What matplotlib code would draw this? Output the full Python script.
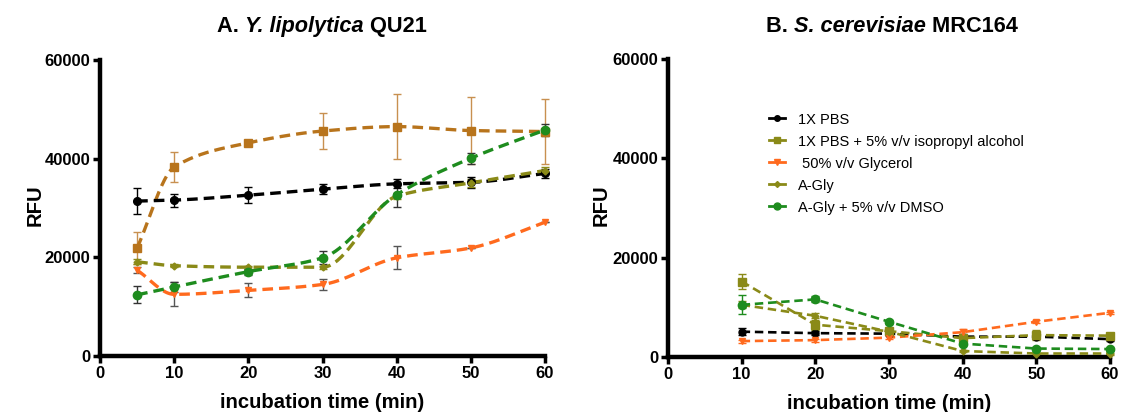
import numpy as np
import matplotlib
matplotlib.use("Agg")
import matplotlib.pyplot as plt
from matplotlib.lines import Line2D

plt.rcParams['font.family'] = ['Liberation Sans', 'DejaVu Sans']

# ---------------- data ----------------
series_names = ["1X PBS", "1X PBS + 5% v/v isopropyl alcohol", " 50% v/v Glycerol",
                "A-Gly", "A-Gly + 5% v/v DMSO"]

time_a = [5, 10, 20, 30, 40, 50, 60]
a_pbs = [31400, 31600, 32600, 33800, 34900, 35200, 37000]
a_pbs_err = [2600, 1300, 1600, 1000, 900, 1100, 1000]
a_ipa = [21900, 38300, 43200, 45600, 46500, 45700, 45500]
a_ipa_err = [3300, 3000, 0, 3600, 6600, 6700, 6600]
a_gly = [17400, 12500, 13300, 14500, 19900, 21900, 27100]
a_gly_err = [600, 2400, 1400, 1200, 2300, 0, 0]
a_agly = [19100, 18300, 18000, 18000, 32400, 35100, 37600]
a_agly_err = [500, 300, 300, 300, 600, 800, 800]
a_dmso = [12400, 14000, 17100, 19900, 32700, 40100, 45800]
a_dmso_err = [1700, 1100, 600, 1300, 2400, 1100, 1200]

time_b = [10, 20, 30, 40, 50, 60]
b_pbs = [5100, 4800, 4700, 4100, 4100, 3600]
b_pbs_err = [700, 400, 300, 500, 400, 300]
b_ipa = [15200, 6500, 5200, 3800, 4400, 4300]
b_ipa_err = [1600, 1000, 400, 300, 1000, 400]
b_gly = [3200, 3400, 3900, 5000, 7100, 8900]
b_gly_err = [300, 300, 300, 600, 300, 200]
b_agly = [10500, 8300, 5100, 1200, 700, 700]
b_agly_err = [700, 500, 300, 200, 200, 200]
b_dmso = [10500, 11600, 7100, 2700, 1700, 1600]
b_dmso_err = [1900, 600, 400, 300, 300, 300]

# ---------------- style ----------------
C_BLACK = "#000000"
C_BROWN = "#B8741C"
C_OLIVE = "#8A8A18"
C_ORANGE = "#FF6A1E"
C_GREEN = "#1E8C1E"


def pchip(x, y, n=40):
    x = np.asarray(x, float)
    y = np.asarray(y, float)
    h = np.diff(x)
    d = np.diff(y) / h
    m = np.zeros_like(y)
    for k in range(1, len(x) - 1):
        if d[k - 1] * d[k] <= 0:
            m[k] = 0
        else:
            w1 = 2 * h[k] + h[k - 1]
            w2 = h[k] + 2 * h[k - 1]
            m[k] = (w1 + w2) / (w1 / d[k - 1] + w2 / d[k])
    m[0] = d[0]
    m[-1] = d[-1]
    xs, ys = [], []
    for k in range(len(x) - 1):
        t = np.linspace(0, 1, n)
        h00 = 2 * t**3 - 3 * t**2 + 1
        h10 = t**3 - 2 * t**2 + t
        h01 = -2 * t**3 + 3 * t**2
        h11 = t**3 - t**2
        yy = h00 * y[k] + h10 * h[k] * m[k] + h01 * y[k + 1] + h11 * h[k] * m[k + 1]
        xs.append(x[k] + t * h[k])
        ys.append(yy)
    return np.concatenate(xs), np.concatenate(ys)


fig = plt.figure(figsize=(11.26, 4.12), dpi=100)
ax1 = fig.add_axes([100 / 1126, 1 - 356 / 412, 445 / 1126, 296 / 412])
ax2 = fig.add_axes([668 / 1126, 1 - 357 / 412, 442 / 1126, 298 / 412])

DASH = (0, (3.2, 1.8))


def draw(ax, t, y, e, color, marker, ms, smooth, ecolor=None, lw=2.4):
    if smooth:
        xs, ys = pchip(t, y)
    else:
        xs, ys = np.asarray(t, float), np.asarray(y, float)
    ax.plot(xs, ys, color=color, lw=lw, linestyle=DASH, dash_capstyle='butt',
            zorder=3, clip_on=False)
    eb = ax.errorbar(t, y, yerr=e, fmt='none', ecolor=ecolor or color, elinewidth=1.0,
                     capsize=3, capthick=1.0, zorder=2)
    for art in eb.lines[1] + eb.lines[2]:
        art.set_clip_on(False)
    ax.plot(t, y, linestyle='none', marker=marker, color=color, ms=ms,
            markeredgecolor=color, zorder=4, clip_on=False)


draw(ax1, time_a, a_ipa, a_ipa_err, C_BROWN, 's', 5.5, True, ecolor="#C89050")
draw(ax1, time_a, a_pbs, a_pbs_err, C_BLACK, 'o', 5.5, True)
draw(ax1, time_a, a_agly, a_agly_err, C_OLIVE, 'D', 3.5, True)
draw(ax1, time_a, a_gly, a_gly_err, C_ORANGE, 'v', 5, True, ecolor="#555555")
draw(ax1, time_a, a_dmso, a_dmso_err, C_GREEN, 'o', 6, True, ecolor="#333333")

draw(ax2, time_b, b_pbs, b_pbs_err, C_BLACK, 'o', 5, False, lw=1.9)
draw(ax2, time_b, b_ipa, b_ipa_err, C_OLIVE, 's', 5.5, False, lw=1.9)
draw(ax2, time_b, b_gly, b_gly_err, C_ORANGE, 'v', 5, False, lw=1.9)
draw(ax2, time_b, b_agly, b_agly_err, C_OLIVE, 'D', 3.5, False, lw=1.9)
draw(ax2, time_b, b_dmso, b_dmso_err, C_GREEN, 'o', 6, False, lw=1.9)

for ax in (ax1, ax2):
    ax.set_xlim(0, 60)
    ax.set_ylim(0, 60000)
    ax.set_xticks(range(0, 61, 10))
    ax.set_yticks(range(0, 60001, 20000))
    for s in ('top', 'right'):
        ax.spines[s].set_visible(False)
    for s in ('left', 'bottom'):
        ax.spines[s].set_linewidth(3.2)
    ax.tick_params(axis='both', width=2.5, length=5, direction='out', labelsize=12, pad=2)
    for lab in ax.get_xticklabels() + ax.get_yticklabels():
        lab.set_fontweight('bold')
    ax.set_xlabel("incubation time (min)", fontsize=14.6, fontweight='bold', labelpad=9)
    ax.patch.set_alpha(0)

ax1.set_ylabel("RFU", fontsize=14.6, fontweight='bold')
ax2.set_ylabel("RFU", fontsize=14.6, fontweight='bold')
ax1.yaxis.set_label_coords(-55 / 445, 0.51)
ax2.yaxis.set_label_coords(-57 / 442, 0.51)

handles = [
    Line2D([], [], color=C_BLACK, marker='o', ms=4, lw=2),
    Line2D([], [], color=C_OLIVE, marker='s', ms=4, lw=2),
    Line2D([], [], color=C_ORANGE, marker='v', ms=4, lw=2),
    Line2D([], [], color=C_OLIVE, marker='D', ms=3, lw=2),
    Line2D([], [], color=C_GREEN, marker='o', ms=5, lw=2),
]
ax2.legend(handles, series_names, loc='upper left', bbox_to_anchor=(0.215, 0.84),
           frameon=False, fontsize=10.5, handlelength=1.1, handletextpad=0.9,
           labelspacing=0.55, borderaxespad=0)


def mixed_title(fig, parts, cx, y, size=15.7):
    fig.canvas.draw()
    r = fig.canvas.get_renderer()
    texts = []
    for s, style in parts:
        t = fig.text(0, y, s, fontsize=size, fontweight='bold', fontstyle=style,
                     va='baseline', ha='left')
        texts.append(t)
    widths = [t.get_window_extent(renderer=r).width for t in texts]
    total = sum(widths)
    x0 = cx * fig.bbox.width - total / 2
    for t, w in zip(texts, widths):
        t.set_x(x0 / fig.bbox.width)
        x0 += w


mixed_title(fig, [("A. ", 'normal'), ("Y. lipolytica", 'italic'), (" QU21", 'normal')],
            322 / 1126, 1 - 32 / 412)
mixed_title(fig, [("B. ", 'normal'), ("S. cerevisiae", 'italic'), (" MRC164", 'normal')],
            892 / 1126, 1 - 32 / 412)

fig.savefig("out.png", dpi=100)
